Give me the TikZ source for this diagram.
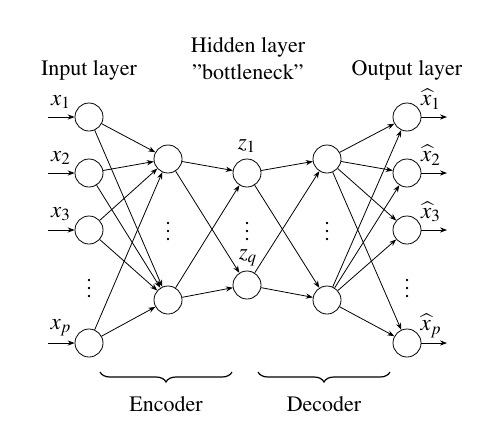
\documentclass[tikz,border=0pt]{standalone}
\usepackage[T1]{fontenc}
\usepackage{mathptmx}
\usetikzlibrary{arrows.meta,decorations.pathreplacing}
\begin{document}
\begin{tikzpicture}[x=0.5pt,y=-0.5pt,
  font=\fontsize{11}{13}\selectfont,
  neuron/.style={circle,draw,minimum size=14pt,inner sep=0pt,line width=0.4pt},
  conn/.style={-{Stealth[length=3.5pt,width=2.6pt]},line width=0.4pt},
  lbl/.style={inner sep=0pt},
  mlbl/.style={inner sep=0pt,font=\fontsize{11.5}{13}\selectfont},
  brc/.style={decorate,decoration={brace,mirror,amplitude=5pt},line width=0.6pt}]
\useasboundingbox (0,0) rectangle (501,428);
% input layer
\node[neuron] (i1) at (89,117) {};
\node[neuron] (i2) at (89,173) {};
\node[neuron] (i3) at (89,230) {};
\node[neuron] (ip) at (89,343) {};
\node[lbl] (idots) at (89,282) {$\vdots$};
% encoder hidden
\node[neuron] (e1) at (168,159) {};
\node[neuron] (e2) at (168,300) {};
\node[lbl] (edots) at (168,225) {$\vdots$};
% bottleneck
\node[neuron] (z1) at (247,173) {};
\node[neuron] (zq) at (247,285) {};
\node[lbl] (zdots) at (247,225) {$\vdots$};
% decoder hidden
\node[neuron] (d1) at (327,159) {};
\node[neuron] (d2) at (327,300) {};
\node[lbl] (ddots) at (327,225) {$\vdots$};
% output layer
\node[neuron] (o1) at (407,117) {};
\node[neuron] (o2) at (407,173) {};
\node[neuron] (o3) at (407,230) {};
\node[neuron] (op) at (407,343) {};
\node[lbl] (odots) at (407,282) {$\vdots$};
% input arrows
\coordinate (a1) at (48,117);
\coordinate (a2) at (48,173);
\coordinate (a3) at (48,230);
\coordinate (ap) at (48,343);
\foreach \s/\t in {a1/i1,a2/i2,a3/i3,ap/ip} \draw[conn] (\s) -- (\t);
% output arrows
\coordinate (b1) at (447,117);
\coordinate (b2) at (447,173);
\coordinate (b3) at (447,230);
\coordinate (bp) at (447,343);
\foreach \s/\t in {o1/b1,o2/b2,o3/b3,op/bp} \draw[conn] (\s) -- (\t);
% connections
\foreach \s in {i1,i2,i3,ip} \foreach \t in {e1,e2} \draw[conn] (\s) -- (\t);
\foreach \s in {e1,e2} \foreach \t in {z1,zq} \draw[conn] (\s) -- (\t);
\foreach \s in {z1,zq} \foreach \t in {d1,d2} \draw[conn] (\s) -- (\t);
\foreach \s in {d1,d2} \foreach \t in {o1,o2,o3,op} \draw[conn] (\s) -- (\t);
% labels
\node[mlbl] (lx1) at (61,102) {$x_1$};
\node[mlbl] (lx2) at (61,158) {$x_2$};
\node[mlbl] (lx3) at (61,214) {$x_3$};
\node[mlbl] (lxp) at (61,328) {$x_p$};
\node[mlbl] (lz1) at (247,146) {$z_1$};
\node[mlbl] (lzq) at (248,258) {$z_q$};
\node[mlbl] (lo1) at (431,99) {$\widehat{x}_1$};
\node[mlbl] (lo2) at (431,155) {$\widehat{x}_2$};
\node[mlbl] (lo3) at (431,212) {$\widehat{x}_3$};
\node[mlbl] (lop) at (431,326) {$\widehat{x}_p$};
% titles
\node[lbl] (tin) at (89,70) {Input layer};
\node[lbl] (thid) at (248,47) {Hidden layer};
\node[lbl] (tbot) at (248,72) {''bottleneck''};
\node[lbl] (tout) at (407,70) {Output layer};
% braces
\coordinate (eb1) at (100,372);
\coordinate (eb2) at (232,372);
\coordinate (db1) at (258,372);
\coordinate (db2) at (390,372);
\draw[brc] (eb1) -- (eb2);
\draw[brc] (db1) -- (db2);
\node[lbl] (enc) at (166,404) {Encoder};
\node[lbl] (dec) at (324,404) {Decoder};
\end{tikzpicture}
\end{document}
